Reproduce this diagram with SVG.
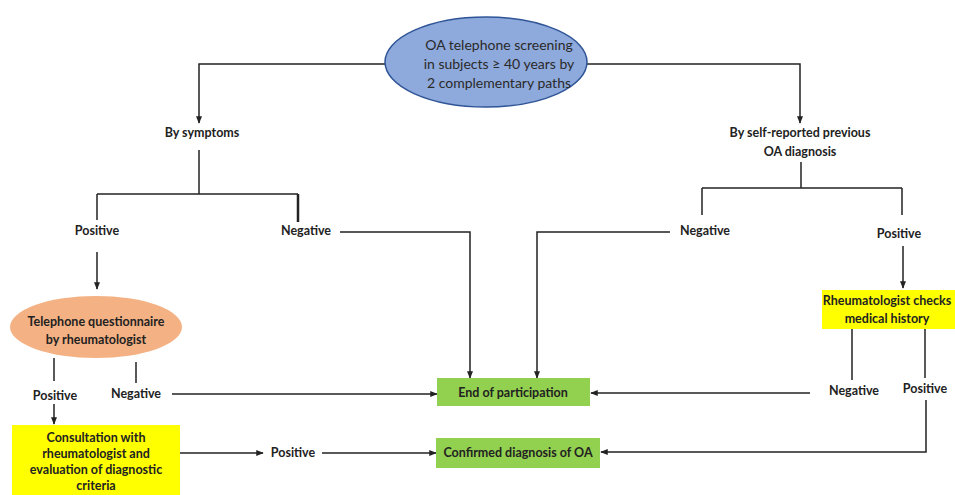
<svg xmlns="http://www.w3.org/2000/svg" width="955" height="495" viewBox="0 0 955 495">
<style>
.t{font-family:Lato,"Liberation Sans",sans-serif;font-size:12.5px;font-weight:bold;fill:#222;text-anchor:middle}
.h{font-family:Lato,"Liberation Sans",sans-serif;font-size:14px;fill:#2a2a2a;text-anchor:middle}
.c{fill:none;stroke:#222;stroke-width:1.5}
</style>
<defs>
<marker id="a" viewBox="0 0 10 10" refX="9" refY="5" markerWidth="5" markerHeight="5" orient="auto">
<path d="M0,1 L10,5 L0,9 z" fill="#222"/>
</marker>
</defs>
<rect width="955" height="495" fill="#fff"/>
<g id="connectors">
<path class="c" d="M386,64 H199 V123" marker-end="url(#a)"/>
<path class="c" d="M586,64 H800 V123" marker-end="url(#a)"/>
<path class="c" d="M199,150 V194"/>
<path class="c" d="M97,194 H298"/>
<path class="c" d="M97,194 V220"/>
<path class="c" d="M298,194 V222" style="stroke-width:2.5"/>
<path class="c" d="M801,162 V188"/>
<path class="c" d="M702,188 H902"/>
<path class="c" d="M702,188 V215"/>
<path class="c" d="M902,188 V215"/>
<path class="c" d="M340,232 H470 V378" marker-end="url(#a)"/>
<path class="c" d="M670,232 H537 V378" marker-end="url(#a)"/>
<path class="c" d="M97,252 V289" marker-end="url(#a)"/>
<path class="c" d="M903,246 V288" marker-end="url(#a)"/>
<path class="c" d="M54,358 V381"/>
<path class="c" d="M136,362 V383"/>
<path class="c" d="M54,404 V424" marker-end="url(#a)"/>
<path class="c" d="M172,394 H437" marker-end="url(#a)"/>
<path class="c" d="M180,453 H263" marker-end="url(#a)"/>
<path class="c" d="M322,453 H436" marker-end="url(#a)"/>
<path class="c" d="M852,329 V380"/>
<path class="c" d="M925,329 V378"/>
<path class="c" d="M810,393 H591" marker-end="url(#a)"/>
<path class="c" d="M926,400 V452 H601" marker-end="url(#a)"/>
</g>
<g id="start">
<ellipse cx="486" cy="62" rx="101" ry="45" fill="#8EA9DB" stroke="#2F5597" stroke-width="1.5"/>
<text class="h" x="499" y="50">OA telephone screening</text>
<text class="h" x="499" y="69">in subjects ≥ 40 years by</text>
<text class="h" x="499" y="88">2 complementary paths</text>
</g>
<g id="by-symptoms"><text class="t" x="202" y="137">By symptoms</text></g>
<g id="by-self"><text class="t" x="800" y="137">By self-reported previous</text><text class="t" x="800" y="156">OA diagnosis</text></g>
<g id="sym-positive"><text class="t" x="97" y="235">Positive</text></g>
<g id="sym-negative"><text class="t" x="306" y="235">Negative</text></g>
<g id="self-negative"><text class="t" x="705" y="235">Negative</text></g>
<g id="self-positive"><text class="t" x="899" y="238">Positive</text></g>
<g id="questionnaire">
<ellipse cx="96" cy="327" rx="86" ry="31" fill="#F4B183"/>
<text class="t" x="96" y="326">Telephone questionnaire</text>
<text class="t" x="96" y="344">by rheumatologist</text>
</g>
<g id="q-positive"><text class="t" x="55" y="400">Positive</text></g>
<g id="q-negative"><text class="t" x="136" y="398">Negative</text></g>
<g id="consultation">
<rect x="12" y="425" width="168" height="70" fill="#FFFF00"/>
<text class="t" x="96" y="442">Consultation with</text>
<text class="t" x="96" y="458">rheumatologist and</text>
<text class="t" x="96" y="474">evaluation of diagnostic</text>
<text class="t" x="96" y="490">criteria</text>
</g>
<g id="c-positive"><text class="t" x="293" y="457">Positive</text></g>
<g id="end">
<rect x="437" y="378" width="153" height="28" fill="#92D050"/>
<text class="t" x="513" y="397">End of participation</text>
</g>
<g id="confirmed">
<rect x="436" y="438" width="164" height="30" fill="#92D050"/>
<text class="t" x="518" y="457">Confirmed diagnosis of OA</text>
</g>
<g id="rheum-checks">
<rect x="822" y="290" width="133" height="39" fill="#FFFF00"/>
<text class="t" x="887" y="305">Rheumatologist checks</text>
<text class="t" x="887" y="323">medical history</text>
</g>
<g id="r-negative"><text class="t" x="854" y="395">Negative</text></g>
<g id="r-positive"><text class="t" x="925" y="393">Positive</text></g>
</svg>
